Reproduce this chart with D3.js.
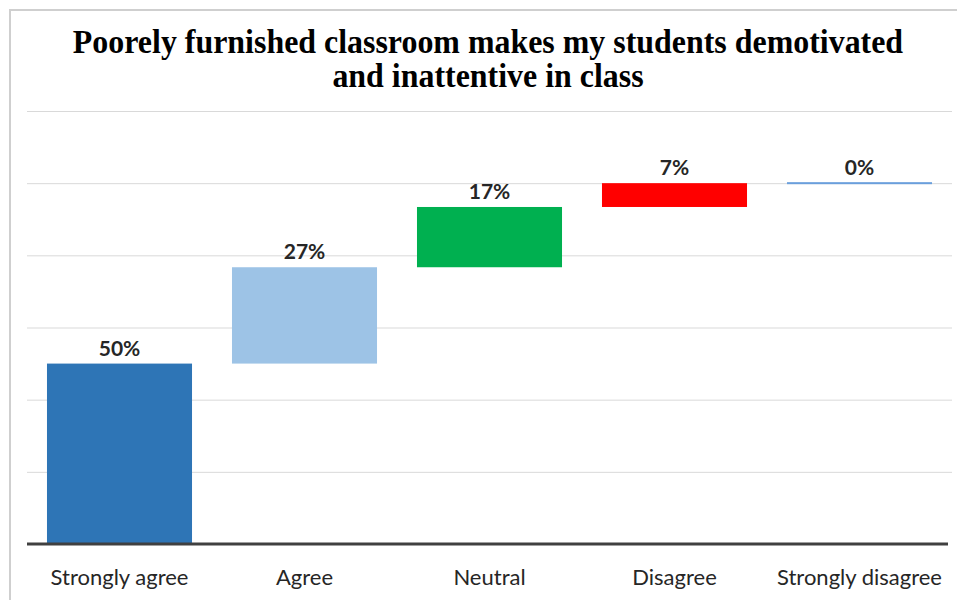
<!DOCTYPE html>
<html>
<head>
<meta charset="utf-8">
<script src="https://cdn.jsdelivr.net/npm/d3@7"></script>
<style>
  html, body { margin: 0; padding: 0; background: #ffffff; }
  svg { display: block; }
</style>
</head>
<body>
<svg id="chart" width="957" height="600"></svg>
<script>
// ---- data ----
const titleLines = ["Poorely furnished classroom makes my students demotivated", "and inattentive in class"];
const categories = ["Strongly agree", "Agree", "Neutral", "Disagree", "Strongly disagree"];
const values = [50, 26.7, 16.7, 6.6, 0];
const valueLabels = ["50%", "27%", "17%", "7%", "0%"];
const colors = ["#2e75b6", "#9dc3e6", "#00b050", "#ff0000", "#6a9fdc"];
const gridTicks = [0, 20, 40, 60, 80, 100, 120];

// ---- layout ----
const W = 957, H = 600;
const plot = { left: 27, right: 952, top: 111, bottom: 544 };

const svg = d3.select("#chart");

// outer frame (partially cropped like the reference)
svg.append("rect")
  .attr("x", 10).attr("y", 10)
  .attr("width", W).attr("height", H)
  .attr("fill", "#ffffff")
  .attr("stroke", "#cfcfcf").attr("stroke-width", 2);

const x = d3.scaleBand()
  .domain(categories)
  .range([plot.left, plot.right])
  .paddingInner(0.216)
  .paddingOuter(0.108);

const y = d3.scaleLinear()
  .domain([0, 120])
  .range([plot.bottom, plot.top]);

// gridlines
svg.append("g")
  .selectAll("line")
  .data(gridTicks.filter(d => d > 0))
  .join("line")
  .attr("x1", plot.left).attr("x2", plot.right)
  .attr("y1", d => y(d) + 0.5).attr("y2", d => y(d) + 0.5)
  .attr("stroke", "#d9d9d9").attr("stroke-width", 1);

// waterfall cumulative
let cum = 0;
const bars = categories.map((c, i) => {
  const start = cum;
  cum += values[i];
  return { cat: c, start, end: cum, label: valueLabels[i], color: colors[i] };
});

svg.append("g")
  .selectAll("rect")
  .data(bars)
  .join("rect")
  .attr("x", d => x(d.cat))
  .attr("width", x.bandwidth())
  .attr("y", d => d.end === d.start ? y(d.end) - 1 : y(d.end))
  .attr("height", d => Math.max(2, y(d.start) - y(d.end)))
  .attr("fill", d => d.color);

// value labels
svg.append("g")
  .selectAll("text")
  .data(bars)
  .join("text")
  .attr("x", d => x(d.cat) + x.bandwidth() / 2)
  .attr("y", d => y(d.end) - 8)
  .attr("text-anchor", "middle")
  .attr("font-family", "Lato, 'Open Sans', sans-serif")
  .attr("font-weight", "bold")
  .attr("font-size", 21)
  .attr("fill", "#262626")
  .text(d => d.label);

// baseline axis
const xAxis = d3.axisBottom(x).tickSize(0).tickPadding(0);
const ax = svg.append("g").attr("transform", `translate(0,${plot.bottom})`).call(xAxis);
ax.select(".domain").attr("stroke", "#404040").attr("stroke-width", 3)
  .attr("d", `M${plot.left},0H948`);
ax.selectAll(".tick text")
  .attr("y", 41)
  .attr("dy", 0)
  .attr("font-family", "Lato, 'Open Sans', sans-serif")
  .attr("font-size", 22)
  .attr("fill", "#262626");

// title
const titleText = svg.append("g")
  .selectAll("text")
  .data(titleLines)
  .join("text")
  .attr("x", 488)
  .attr("y", (d, i) => 53 + i * 34)
  .attr("text-anchor", "middle")
  .attr("font-family", "'Liberation Serif', 'Times New Roman', serif")
  .attr("font-weight", "bold")
  .attr("font-size", 33)
  .attr("fill", "#000000")
  .text(d => d);
titleText.each(function () {
  const w = this.getComputedTextLength();
  d3.select(this).attr("textLength", w * 0.967).attr("lengthAdjust", "spacingAndGlyphs");
});
</script>
</body>
</html>
